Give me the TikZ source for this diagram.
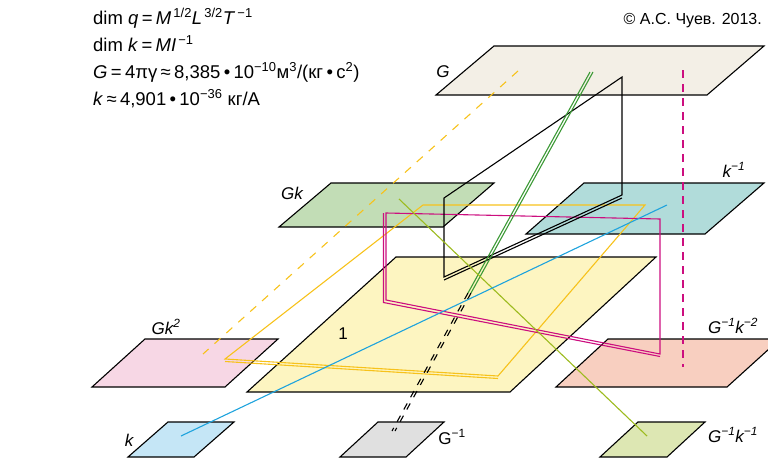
\documentclass[tikz,border=0pt]{standalone}
\usepackage{fontspec}
\setmainfont{Liberation Sans}
\definecolor{planeG}{HTML}{F3EFE6}
\definecolor{planeGk}{HTML}{C2DDB6}
\definecolor{planeKinv}{HTML}{B1DCDA}
\definecolor{planeOne}{HTML}{FDF5C1}
\definecolor{planeGkk}{HTML}{F7D7E5}
\definecolor{planeGinvKk}{HTML}{F8CFC0}
\definecolor{planeK}{HTML}{C5E6F6}
\definecolor{planeGinv}{HTML}{E0E0E0}
\definecolor{planeGinvK}{HTML}{DDE7B3}
\definecolor{lineYellow}{HTML}{F7C21B}
\definecolor{lineMagenta}{HTML}{CC0E7F}
\definecolor{lineGreen}{HTML}{3C9A36}
\definecolor{lineOlive}{HTML}{9DBB1F}
\definecolor{lineBlue}{HTML}{1EA3DD}
\newcommand{\opsp}{\hspace{0.18em}}

\begin{document}
\begin{tikzpicture}[x=1pt, y=-1pt,
  plane/.style={draw=black, line width=1.1pt},
  lbl/.style={font=\fontsize{17}{20}\selectfont\itshape, inner sep=0pt},
  uplbl/.style={font=\fontsize{17}{20}\selectfont, inner sep=0pt},
  info/.style={font=\fontsize{18.5}{21}\selectfont, anchor=base west, inner sep=0pt},
  yline/.style={draw=lineYellow, line width=1.1pt},
  mline/.style={draw=lineMagenta, line width=1.1pt},
  bline/.style={draw=black, line width=1.1pt},
  gline/.style={draw=lineGreen, line width=1.1pt},
  dashes/.style={dash pattern=on 7pt off 7pt}
]
  \clip (0,0) rectangle (768,458);

  % planes
  \draw[plane, fill=planeG] (494,46) -- (764,46) -- (707,95) -- (436,95) -- cycle;
  \draw[plane, fill=planeGk] (331,183) -- (494,183) -- (443,227) -- (279,227) -- cycle;
  \draw[plane, fill=planeKinv] (584,183) -- (764,183) -- (705,234) -- (526,234) -- cycle;
  \draw[plane, fill=planeOne] (396,257) -- (656,257) -- (510,392) -- (247,392) -- cycle;
  \draw[plane, fill=planeGkk] (145,339) -- (278,339) -- (225,387) -- (92,387) -- cycle;
  \draw[plane, fill=planeGinvKk] (608,339) -- (780,339) -- (727,387) -- (556,387) -- cycle;
  \draw[plane, fill=planeK] (168,422) -- (234,422) -- (194,457) -- (128,457) -- cycle;
  \draw[plane, fill=planeGinv] (378,422) -- (444,422) -- (406,457) -- (340,457) -- cycle;
  \draw[plane, fill=planeGinvK] (638,422) -- (705,422) -- (667,457) -- (600,457) -- cycle;

  \node[lbl] (labG) at (443,72) {G};
  \node[lbl] (labGk) at (292,193) {Gk};
  \node[lbl] (labKinv) at (734,170) {k\textsuperscript{−1}};
  \node[uplbl] (labOne) at (343,334) {1};
  \node[lbl] (labGkk) at (166,327) {Gk\textsuperscript{2}};
  \node[lbl] (labGinvKk) at (733,326) {G\textsuperscript{−1}k\textsuperscript{−2}};
  \node[lbl] (labK) at (129,440) {k};
  \node[uplbl] (labGinv) at (452,437) {G\textsuperscript{−1}};
  \node[lbl] (labGinvK) at (733,435) {G\textsuperscript{−1}k\textsuperscript{−1}};

  % links
  \coordinate (ydTop) at (518,71);
  \coordinate (ydBot) at (203,354);
  \draw[yline, dash pattern=on 8pt off 8pt] (ydTop) -- (ydBot);

  \coordinate (yA) at (225,359);
  \coordinate (yB) at (423,205);
  \coordinate (yC) at (645,205);
  \coordinate (yD) at (498,376);
  \draw[yline] (yA) -- (yB) -- (yC) -- (yD) -- cycle;
  \draw[yline] ([yshift=-2.5pt]yA) -- ([yshift=-2.5pt]yD);

  \coordinate (mA) at (386,213);
  \coordinate (mB) at (660,219);
  \coordinate (mC) at (660,354);
  \coordinate (mD) at (386,300);
  \draw[mline] (mD) -- (mA) -- (mB) -- (mC) -- cycle;
  \draw[mline] ([xshift=-2.5pt]mA) -- ([shift={(-2.5pt,-2.5pt)}]mD) -- ([yshift=-2.5pt]mC);

  \coordinate (mdTop) at (683,70);
  \coordinate (mdBot) at (683,367);
  \draw[mline, dash pattern=on 8pt off 6pt] (mdTop) -- (mdBot);

  \coordinate (bA) at (622,77);
  \coordinate (bB) at (444,198);
  \coordinate (bC) at (444,277);
  \coordinate (bD) at (622,195);
  \draw[bline] (bD) -- (bA) -- (bB) -- (bC) -- cycle;
  \draw[bline] ([yshift=-3pt]bC) -- ([yshift=-3pt]bD);

  \coordinate (gA) at (590,72);
  \coordinate (gB) at (468,293);
  \coordinate (gC) at (392,431);
  \draw[gline] (gA) -- (gB);
  \draw[gline] ([xshift=3pt]gA) -- ([xshift=3pt]gB);
  \draw[bline, dashes] (gB) -- (gC);
  \draw[bline, dashes] ([xshift=3pt]gB) -- ([xshift=3pt]gC);

  \coordinate (oA) at (399,199);
  \coordinate (oB) at (647,436);
  \draw[draw=lineOlive, line width=1.1pt] (oA) -- (oB);

  \coordinate (cA) at (181,436);
  \coordinate (cB) at (667,205);
  \draw[draw=lineBlue, line width=1.1pt] (cA) -- (cB);

  % formulas
  \node[info] (dimQ) at (93,24) {dim \textit{q}\opsp=\opsp\textit{M}\textsuperscript{\,1/2}\textit{L}\textsuperscript{\,3/2}\textit{T}\textsuperscript{\,−1}};
  \node[info] (dimK) at (93,51) {dim \textit{k}\opsp=\opsp\textit{MI}\textsuperscript{\,−1}};
  \node[info] (valG) at (93,78) {\textit{G}\opsp=\opsp4πγ\opsp≈\opsp8,385\opsp•\opsp10\textsuperscript{−10}м\textsuperscript{3}/(кг\opsp•\opsp с\textsuperscript{2})};
  \node[info] (valK) at (93,105) {\textit{k}\opsp≈\opsp4,901\opsp•\opsp10\textsuperscript{−36} кг/А};
  \node[info, font=\fontsize{16}{19}\selectfont, anchor=base east] (copy) at (762,24) {© А.С. Чуев. 2013.};
\end{tikzpicture}
\end{document}
